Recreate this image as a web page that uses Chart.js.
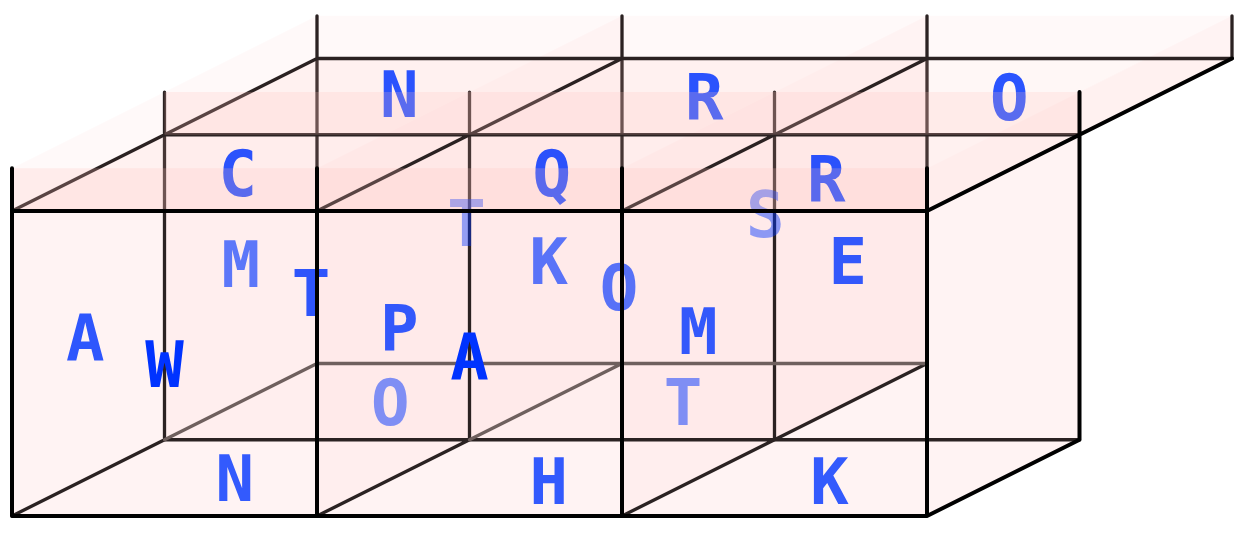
<!DOCTYPE html>
<html>
<head>
<meta charset="utf-8">
<script src="https://cdn.jsdelivr.net/npm/chart.js@4/dist/chart.umd.min.js"></script>
<style>
  html, body { margin: 0; background: #fff; }
  canvas { display: block; }
</style>
</head>
<body>
<canvas id="cube" width="1249" height="539"></canvas>
<script>
// grid geometry, in cell units
const lowerCells = [[0, 0], [1, 0], [2, 0], [0, 1], [1, 1]]; // [column, depth row] of the boxes under the tray
const trayCols = 3;
const trayRows = 2;
const rimHeight = 0.14;

// letters: glyph, column, height, depth, opacity
const letterChars  = ['A', 'W', 'M', 'T', 'P', 'O', 'A', 'T', 'K', 'O', 'M', 'T', 'S', 'E', 'C', 'Q', 'R', 'N', 'R', 'O', 'N', 'H', 'K'];
const letterCol    = [-0.01, 0.50, 0.00, 0.48, 1.02, 0.49, 1.50, 0.49, 1.01, 1.49, 2.00, 1.45, 1.47, 1.99, 0.49, 1.52, 2.42, 0.52, 1.52, 2.52, 0.48, 1.51, 2.43];
const letterHeight = [0.46, 0.50, 0.45, 0.48, 0.49, 0.00, 0.52, 0.46, 0.46, 0.50, 0.48, 0.00, 0.49, 0.46, 1.00, 1.00, 0.98, 1.01, 1.00, 1.00, 0.00, -0.01, -0.01];
const letterDepth  = [0.5, 0, 1.5, 1, 0.5, 1.5, 0, 2, 1.5, 1, 0.5, 1.5, 2, 1.5, 0.5, 0.5, 0.5, 1.5, 1.5, 1.5, 0.5, 0.5, 0.5];
const letterAlpha  = [0.82, 1, 0.64, 0.82, 0.8, 0.5, 1, 0.42, 0.65, 0.66, 0.8, 0.5, 0.45, 0.8, 0.83, 0.83, 0.83, 0.83, 0.83, 0.83, 0.8, 0.8, 0.8];

// oblique projection: depth goes up and to the right
const toXY = (p) => ({ x: p[0] + 0.5 * p[2], y: p[1] + 0.25 * p[2] });

// ---- edges ----
const edges = new Map();
function addEdge(a, b) {
  const key = [a.join(','), b.join(',')].sort().join('|');
  edges.set(key, [a, b]);
}
lowerCells.forEach(([ci, ck]) => {
  for (const j of [0, 1]) {
    for (const k of [ck, ck + 1]) addEdge([ci, j, k], [ci + 1, j, k]);
    for (const i of [ci, ci + 1]) addEdge([i, j, ck], [i, j, ck + 1]);
  }
  for (const i of [ci, ci + 1])
    for (const k of [ck, ck + 1]) addEdge([i, 0, k], [i, 1, k]);
});
for (let k = 0; k <= trayRows; k++)
  for (let i = 0; i < trayCols; i++) addEdge([i, 1, k], [i + 1, 1, k]);
for (let i = 0; i <= trayCols; i++)
  for (let k = 0; k < trayRows; k++) addEdge([i, 1, k], [i, 1, k + 1]);
for (let i = 0; i <= trayCols; i++)
  for (let k = 0; k <= trayRows; k++) addEdge([i, 1, k], [i, 1 + rimHeight, k]);

const lineGroups = { back: [], hidden: [], mid: [], front: [] };
for (const [a, b] of edges.values()) {
  const vertical = a[1] !== b[1];
  const alongDepth = a[2] !== b[2];
  let group = 'mid';
  if (a[2] === 0 && b[2] === 0) group = 'front';
  else if (a[0] === trayCols && b[0] === trayCols && !(vertical && a[2] === trayRows)) group = 'front';
  else if (vertical) group = 'back';
  else if (a[1] === 0 && Math.max(a[2], b[2]) === trayRows && !(alongDepth && a[0] === trayCols - 1)) group = 'hidden';
  lineGroups[group].push(toXY(a), toXY(b), { x: toXY(b).x, y: null });
}

// ---- faces ----
const baseFaces = new Map();
function quad(p0, p1, p2, p3) { return [p0, p1, p2, p3]; }
function addFace(store, corners) {
  const key = corners.map(c => c.join(',')).sort().join('|');
  store.set(key, corners);
}
lowerCells.forEach(([ci, ck]) => {
  const i0 = ci, i1 = ci + 1, k0 = ck, k1 = ck + 1;
  addFace(baseFaces, quad([i0, 0, k0], [i1, 0, k0], [i1, 0, k1], [i0, 0, k1]));
  for (const k of [k0, k1]) addFace(baseFaces, quad([i0, 0, k], [i1, 0, k], [i1, 1, k], [i0, 1, k]));
  for (const i of [i0, i1]) addFace(baseFaces, quad([i, 0, k0], [i, 0, k1], [i, 1, k1], [i, 1, k0]));
});
const rimTop = 1 + rimHeight;
const coverStrips = [];
for (let k = 0; k <= trayRows; k++) {
  const strip = quad([0, 1, k], [trayCols, 1, k], [trayCols, rimTop, k], [0, rimTop, k]);
  if (k < trayRows) coverStrips.push(strip); else addFace(baseFaces, strip);
}
for (let i = 0; i <= trayCols; i++)
  addFace(baseFaces, quad([i, 1, 0], [i, 1, trayRows], [i, rimTop, trayRows], [i, rimTop, 0]));
const floorFaces = [];
for (let i = 0; i < trayCols; i++)
  for (let k = 0; k < trayRows; k++)
    floorFaces.push(quad([i, 1, k], [i + 1, 1, k], [i + 1, 1, k + 1], [i, 1, k + 1]));

// ---- datasets ----
const PINK = 'rgba(255, 190, 185, ';
function faceSet(corners, alpha, order) {
  const pts = corners.map(toXY);
  pts.push(pts[0]);
  return {
    data: pts, showLine: true, fill: 'shape', order,
    backgroundColor: PINK + alpha + ')', borderColor: 'transparent', borderWidth: 0,
    pointRadius: 0
  };
}
function lineSet(pts, color, width, order) {
  return {
    data: pts, showLine: true, fill: false, order, spanGaps: false,
    borderColor: color, borderWidth: width, borderCapStyle: 'round',
    pointRadius: 0
  };
}

const datasets = [];
[...baseFaces.values()].forEach(f => datasets.push(faceSet(f, 0.085, 70)));
datasets.push(lineSet(lineGroups.back, '#2b2222', 3.3, 60));
floorFaces.forEach(f => datasets.push(faceSet(f, 0.13, 50)));
datasets.push(lineSet(lineGroups.hidden, '#6f605e', 3.3, 40));
datasets.push(lineSet(lineGroups.mid, '#2b2222', 3.3, 40));
datasets.push({
  data: letterChars.map((c, n) => toXY([letterCol[n], letterHeight[n], letterDepth[n]])),
  glyphs: letterChars, alphas: letterAlpha,
  showLine: false, pointRadius: 0, order: 30
});
coverStrips.forEach(f => datasets.push(faceSet(f, 0.22, 20)));
datasets.push(lineSet(lineGroups.front, '#000000', 4, 10));

const letterPlugin = {
  id: 'letterPlugin',
  afterDatasetDraw(chart, args) {
    const ds = chart.data.datasets[args.index];
    if (!ds.glyphs) return;
    const ctx = chart.ctx;
    ctx.save();
    ctx.font = 'bold 64px "DejaVu Sans Mono"';
    ctx.textAlign = 'center';
    ctx.textBaseline = 'alphabetic';
    args.meta.data.forEach((pt, n) => {
      ctx.fillStyle = 'rgba(0, 51, 255, ' + ds.alphas[n] + ')';
      ctx.fillText(ds.glyphs[n], pt.x, pt.y + 23);
    });
    ctx.restore();
  }
};

new Chart(document.getElementById('cube'), {
  type: 'scatter',
  data: { datasets },
  options: {
    responsive: false,
    animation: false,
    events: [],
    layout: { padding: 0 },
    elements: { line: { tension: 0 } },
    plugins: { legend: { display: false }, tooltip: { enabled: false } },
    scales: {
      x: { type: 'linear', display: false, min: -12 / 305, max: 1237 / 305 },
      y: { type: 'linear', display: false, min: -23 / 305, max: 516 / 305 }
    }
  },
  plugins: [letterPlugin]
});
</script>
</body>
</html>
